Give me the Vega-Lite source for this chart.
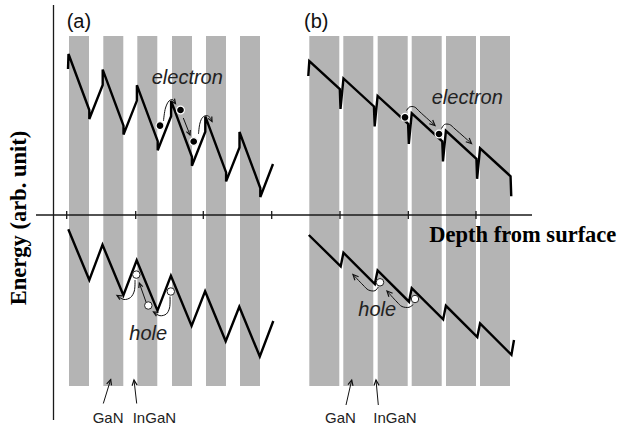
{
  "$schema": "https://vega.github.io/schema/vega-lite/v6.json",
  "width": 624,
  "height": 428,
  "autosize": {"type": "fit", "contains": "padding"},
  "padding": 0,
  "background": "white",
  "config": {"view": {"stroke": null}},
  "encoding": {
    "x": {"field": "depth", "type": "quantitative", "scale": {"domain": [-52, 572], "nice": false, "zero": false}, "axis": null},
    "y": {"field": "energy", "type": "quantitative", "scale": {"domain": [-213, 215], "nice": false, "zero": false}, "axis": null}
  },
  "layer": [
    {
      "description": "GaN barriers (grey) between InGaN wells; panel a thin barriers, panel b wide barriers",
      "data": {"values": [
        {"panel": "a", "depth": 17, "depth_end": 37, "energy": 179, "energy_end": -171},
        {"panel": "a", "depth": 51.3, "depth_end": 71.3, "energy": 179, "energy_end": -171},
        {"panel": "a", "depth": 85.3, "depth_end": 105.3, "energy": 179, "energy_end": -171},
        {"panel": "a", "depth": 120, "depth_end": 140, "energy": 179, "energy_end": -171},
        {"panel": "a", "depth": 154, "depth_end": 174, "energy": 179, "energy_end": -171},
        {"panel": "a", "depth": 188, "depth_end": 208, "energy": 179, "energy_end": -171},
        {"panel": "b", "depth": 257.3, "depth_end": 287.3, "energy": 179, "energy_end": -171},
        {"panel": "b", "depth": 291.3, "depth_end": 321.3, "energy": 179, "energy_end": -171},
        {"panel": "b", "depth": 325.7, "depth_end": 355.7, "energy": 179, "energy_end": -171},
        {"panel": "b", "depth": 359.7, "depth_end": 389.7, "energy": 179, "energy_end": -171},
        {"panel": "b", "depth": 394, "depth_end": 424, "energy": 179, "energy_end": -171},
        {"panel": "b", "depth": 428, "depth_end": 458, "energy": 179, "energy_end": -171}
      ]},
      "mark": {"type": "rect", "color": "#b4b4b4"},
      "encoding": {
        "x2": {"field": "depth_end"},
        "y2": {"field": "energy_end"}
      }
    },
    {
      "description": "energy and depth axis lines, with tick marks on the depth axis",
      "data": {"values": [
        {"depth": 1.5, "depth_end": 1.5, "energy": 210, "energy_end": -205},
        {"depth": -16, "depth_end": 480, "energy": 0, "energy_end": 0},
        {"depth": 14.7, "depth_end": 14.7, "energy": 4, "energy_end": -4},
        {"depth": 83.7, "depth_end": 83.7, "energy": 4, "energy_end": -4},
        {"depth": 151.3, "depth_end": 151.3, "energy": 4, "energy_end": -4},
        {"depth": 219.7, "depth_end": 219.7, "energy": 4, "energy_end": -4},
        {"depth": 288, "depth_end": 288, "energy": 4, "energy_end": -4},
        {"depth": 356.3, "depth_end": 356.3, "energy": 4, "energy_end": -4},
        {"depth": 424, "depth_end": 424, "energy": 4, "energy_end": -4}
      ]},
      "mark": {"type": "rule", "color": "#1a1a1a", "strokeWidth": 1.3},
      "encoding": {
        "x2": {"field": "depth_end"},
        "y2": {"field": "energy_end"}
      }
    },
    {
      "description": "conduction and valence band profiles",
      "data": {"values": [
        {"band": "a-conduction", "i": 0, "depth": 16, "energy": 146},
        {"band": "a-conduction", "i": 1, "depth": 16.5, "energy": 161},
        {"band": "a-conduction", "i": 2, "depth": 37.3, "energy": 105},
        {"band": "a-conduction", "i": 3, "depth": 37.3, "energy": 96},
        {"band": "a-conduction", "i": 4, "depth": 50.7, "energy": 130},
        {"band": "a-conduction", "i": 5, "depth": 50.7, "energy": 145.4},
        {"band": "a-conduction", "i": 6, "depth": 71.5, "energy": 89.4},
        {"band": "a-conduction", "i": 7, "depth": 71.5, "energy": 80.4},
        {"band": "a-conduction", "i": 8, "depth": 84.9, "energy": 114.4},
        {"band": "a-conduction", "i": 9, "depth": 84.9, "energy": 129.8},
        {"band": "a-conduction", "i": 10, "depth": 105.7, "energy": 73.8},
        {"band": "a-conduction", "i": 11, "depth": 105.7, "energy": 64.8},
        {"band": "a-conduction", "i": 12, "depth": 119.1, "energy": 98.8},
        {"band": "a-conduction", "i": 13, "depth": 119.1, "energy": 114.2},
        {"band": "a-conduction", "i": 14, "depth": 139.9, "energy": 58.2},
        {"band": "a-conduction", "i": 15, "depth": 139.9, "energy": 49.2},
        {"band": "a-conduction", "i": 16, "depth": 153.3, "energy": 83.2},
        {"band": "a-conduction", "i": 17, "depth": 153.3, "energy": 98.6},
        {"band": "a-conduction", "i": 18, "depth": 174.1, "energy": 42.6},
        {"band": "a-conduction", "i": 19, "depth": 174.1, "energy": 33.6},
        {"band": "a-conduction", "i": 20, "depth": 187.5, "energy": 67.6},
        {"band": "a-conduction", "i": 21, "depth": 187.5, "energy": 83},
        {"band": "a-conduction", "i": 22, "depth": 208.3, "energy": 27},
        {"band": "a-conduction", "i": 23, "depth": 208.3, "energy": 18},
        {"band": "a-conduction", "i": 24, "depth": 221, "energy": 51},

        {"band": "a-valence", "i": 0, "depth": 16.3, "energy": -14.3},
        {"band": "a-valence", "i": 1, "depth": 37.3, "energy": -65},
        {"band": "a-valence", "i": 2, "depth": 50.5, "energy": -29.8},
        {"band": "a-valence", "i": 3, "depth": 71.4, "energy": -80.3},
        {"band": "a-valence", "i": 4, "depth": 84.7, "energy": -45.3},
        {"band": "a-valence", "i": 5, "depth": 105.5, "energy": -95.6},
        {"band": "a-valence", "i": 6, "depth": 118.9, "energy": -60.8},
        {"band": "a-valence", "i": 7, "depth": 139.6, "energy": -110.9},
        {"band": "a-valence", "i": 8, "depth": 153.1, "energy": -76.3},
        {"band": "a-valence", "i": 9, "depth": 173.7, "energy": -126.2},
        {"band": "a-valence", "i": 10, "depth": 187.3, "energy": -91.8},
        {"band": "a-valence", "i": 11, "depth": 207.8, "energy": -141.5},
        {"band": "a-valence", "i": 12, "depth": 221.3, "energy": -106},

        {"band": "b-conduction", "i": 0, "depth": 256.3, "energy": 139},
        {"band": "b-conduction", "i": 1, "depth": 257.3, "energy": 154},
        {"band": "b-conduction", "i": 2, "depth": 287.8, "energy": 126},
        {"band": "b-conduction", "i": 3, "depth": 288.5, "energy": 106},
        {"band": "b-conduction", "i": 4, "depth": 291.45, "energy": 136.55},
        {"band": "b-conduction", "i": 5, "depth": 321.95, "energy": 108.55},
        {"band": "b-conduction", "i": 6, "depth": 322.65, "energy": 88.55},
        {"band": "b-conduction", "i": 7, "depth": 325.6, "energy": 119.1},
        {"band": "b-conduction", "i": 8, "depth": 356.1, "energy": 91.1},
        {"band": "b-conduction", "i": 9, "depth": 356.8, "energy": 71.1},
        {"band": "b-conduction", "i": 10, "depth": 359.75, "energy": 101.65},
        {"band": "b-conduction", "i": 11, "depth": 390.25, "energy": 73.65},
        {"band": "b-conduction", "i": 12, "depth": 390.95, "energy": 53.65},
        {"band": "b-conduction", "i": 13, "depth": 393.9, "energy": 84.2},
        {"band": "b-conduction", "i": 14, "depth": 424.4, "energy": 56.2},
        {"band": "b-conduction", "i": 15, "depth": 425.1, "energy": 36.2},
        {"band": "b-conduction", "i": 16, "depth": 428.05, "energy": 66.75},
        {"band": "b-conduction", "i": 17, "depth": 458.55, "energy": 38.75},
        {"band": "b-conduction", "i": 18, "depth": 459.25, "energy": 18.75},

        {"band": "b-valence", "i": 0, "depth": 256.8, "energy": -20},
        {"band": "b-valence", "i": 1, "depth": 288.7, "energy": -51.3},
        {"band": "b-valence", "i": 2, "depth": 291.45, "energy": -37.7},
        {"band": "b-valence", "i": 3, "depth": 322.85, "energy": -69},
        {"band": "b-valence", "i": 4, "depth": 325.6, "energy": -55.4},
        {"band": "b-valence", "i": 5, "depth": 357, "energy": -86.7},
        {"band": "b-valence", "i": 6, "depth": 359.75, "energy": -73.1},
        {"band": "b-valence", "i": 7, "depth": 391.15, "energy": -104.4},
        {"band": "b-valence", "i": 8, "depth": 393.9, "energy": -90.8},
        {"band": "b-valence", "i": 9, "depth": 425.3, "energy": -122.1},
        {"band": "b-valence", "i": 10, "depth": 428.05, "energy": -108.5},
        {"band": "b-valence", "i": 11, "depth": 459.45, "energy": -139.8},
        {"band": "b-valence", "i": 12, "depth": 462, "energy": -125}
      ]},
      "mark": {"type": "line", "color": "black", "strokeWidth": 2.4, "strokeJoin": "miter", "strokeCap": "butt"},
      "encoding": {
        "detail": {"field": "band"},
        "order": {"field": "i", "type": "quantitative"}
      }
    },
    {
      "description": "carrier transfer paths and layer pointers (shafts)",
      "data": {"values": [
        {"arrow": "a-e1", "i": 0, "depth": 111.5, "energy": 94},
        {"arrow": "a-e1", "i": 1, "depth": 113.5, "energy": 107},
        {"arrow": "a-e1", "i": 2, "depth": 117, "energy": 114},
        {"arrow": "a-e1", "i": 3, "depth": 120.5, "energy": 115.5},
        {"arrow": "a-e1", "i": 4, "depth": 123.5, "energy": 111.5},
        {"arrow": "a-e2", "i": 0, "depth": 131.3, "energy": 97},
        {"arrow": "a-e2", "i": 1, "depth": 138, "energy": 80},
        {"arrow": "a-e3", "i": 0, "depth": 146.5, "energy": 81},
        {"arrow": "a-e3", "i": 1, "depth": 148, "energy": 92},
        {"arrow": "a-e3", "i": 2, "depth": 150.7, "energy": 97.7},
        {"arrow": "a-e3", "i": 3, "depth": 154.7, "energy": 99.5},
        {"arrow": "a-e3", "i": 4, "depth": 158, "energy": 97.5},
        {"arrow": "a-e3", "i": 5, "depth": 160, "energy": 93.5},
        {"arrow": "a-h1", "i": 0, "depth": 83, "energy": -65},
        {"arrow": "a-h1", "i": 1, "depth": 82.3, "energy": -76},
        {"arrow": "a-h1", "i": 2, "depth": 78.5, "energy": -82.5},
        {"arrow": "a-h1", "i": 3, "depth": 72, "energy": -84.5},
        {"arrow": "a-h1", "i": 4, "depth": 65, "energy": -80.5},
        {"arrow": "a-h2", "i": 0, "depth": 94, "energy": -87},
        {"arrow": "a-h2", "i": 1, "depth": 87.3, "energy": -68},
        {"arrow": "a-h3", "i": 0, "depth": 118, "energy": -81.5},
        {"arrow": "a-h3", "i": 1, "depth": 117.5, "energy": -93},
        {"arrow": "a-h3", "i": 2, "depth": 114.3, "energy": -99},
        {"arrow": "a-h3", "i": 3, "depth": 108, "energy": -100.7},
        {"arrow": "a-h3", "i": 4, "depth": 101.5, "energy": -97},
        {"arrow": "b-e1", "i": 0, "depth": 354.5, "energy": 104.5},
        {"arrow": "b-e1", "i": 1, "depth": 357.5, "energy": 108},
        {"arrow": "b-e1", "i": 2, "depth": 362.5, "energy": 108},
        {"arrow": "b-e1", "i": 3, "depth": 368, "energy": 103},
        {"arrow": "b-e1", "i": 4, "depth": 383, "energy": 89.5},
        {"arrow": "b-e2", "i": 0, "depth": 389.5, "energy": 86.5},
        {"arrow": "b-e2", "i": 1, "depth": 392.5, "energy": 90.5},
        {"arrow": "b-e2", "i": 2, "depth": 397.5, "energy": 90.5},
        {"arrow": "b-e2", "i": 3, "depth": 403, "energy": 86},
        {"arrow": "b-e2", "i": 4, "depth": 419.5, "energy": 71.5},
        {"arrow": "b-h1", "i": 0, "depth": 326.3, "energy": -72},
        {"arrow": "b-h1", "i": 1, "depth": 323, "energy": -75.7},
        {"arrow": "b-h1", "i": 2, "depth": 316.5, "energy": -75},
        {"arrow": "b-h1", "i": 3, "depth": 311, "energy": -70},
        {"arrow": "b-h1", "i": 4, "depth": 301, "energy": -59.5},
        {"arrow": "b-h2", "i": 0, "depth": 361.3, "energy": -89.5},
        {"arrow": "b-h2", "i": 1, "depth": 357, "energy": -92.3},
        {"arrow": "b-h2", "i": 2, "depth": 350, "energy": -91.5},
        {"arrow": "b-h2", "i": 3, "depth": 345, "energy": -87},
        {"arrow": "b-h2", "i": 4, "depth": 335, "energy": -76},
        {"arrow": "a-gan", "i": 0, "depth": 51.3, "energy": -188.5},
        {"arrow": "a-gan", "i": 1, "depth": 58.7, "energy": -164.5},
        {"arrow": "a-ingan", "i": 0, "depth": 84.7, "energy": -188.5},
        {"arrow": "a-ingan", "i": 1, "depth": 82, "energy": -165},
        {"arrow": "b-gan", "i": 0, "depth": 294, "energy": -190},
        {"arrow": "b-gan", "i": 1, "depth": 299.7, "energy": -165},
        {"arrow": "b-ingan", "i": 0, "depth": 326.3, "energy": -190},
        {"arrow": "b-ingan", "i": 1, "depth": 324, "energy": -165}
      ]},
      "mark": {"type": "line", "color": "#111111", "strokeWidth": 1, "interpolate": "catmull-rom"},
      "encoding": {
        "detail": {"field": "arrow"},
        "order": {"field": "i", "type": "quantitative"}
      }
    },
    {
      "description": "arrow heads: barb, tip, barb",
      "data": {"values": [
        {"arrow": "a-e1", "i": 0, "depth": 122.5, "energy": 116.4},
        {"arrow": "a-e1", "i": 1, "depth": 123.5, "energy": 111.5},
        {"arrow": "a-e1", "i": 2, "depth": 119.1, "energy": 113.9},
        {"arrow": "a-e2", "i": 0, "depth": 138.3, "energy": 85},
        {"arrow": "a-e2", "i": 1, "depth": 138, "energy": 80},
        {"arrow": "a-e2", "i": 2, "depth": 134.4, "energy": 83.4},
        {"arrow": "a-e3", "i": 0, "depth": 159.8, "energy": 98.5},
        {"arrow": "a-e3", "i": 1, "depth": 160, "energy": 93.5},
        {"arrow": "a-e3", "i": 2, "depth": 156.1, "energy": 96.6},
        {"arrow": "a-h1", "i": 0, "depth": 67.9, "energy": -84.6},
        {"arrow": "a-h1", "i": 1, "depth": 65, "energy": -80.5},
        {"arrow": "a-h1", "i": 2, "depth": 70, "energy": -80.9},
        {"arrow": "a-h2", "i": 0, "depth": 86.8, "energy": -73},
        {"arrow": "a-h2", "i": 1, "depth": 87.3, "energy": -68},
        {"arrow": "a-h2", "i": 2, "depth": 90.8, "energy": -71.6},
        {"arrow": "a-h3", "i": 0, "depth": 104.4, "energy": -101.1},
        {"arrow": "a-h3", "i": 1, "depth": 101.5, "energy": -97},
        {"arrow": "a-h3", "i": 2, "depth": 106.5, "energy": -97.4},
        {"arrow": "b-e1", "i": 0, "depth": 380.7, "energy": 95},
        {"arrow": "b-e1", "i": 1, "depth": 383, "energy": 89.5},
        {"arrow": "b-e1", "i": 2, "depth": 377.3, "energy": 91.2},
        {"arrow": "b-e2", "i": 0, "depth": 417.2, "energy": 77},
        {"arrow": "b-e2", "i": 1, "depth": 419.5, "energy": 71.5},
        {"arrow": "b-e2", "i": 2, "depth": 413.8, "energy": 73.2},
        {"arrow": "b-h1", "i": 0, "depth": 302.9, "energy": -65.2},
        {"arrow": "b-h1", "i": 1, "depth": 301, "energy": -59.5},
        {"arrow": "b-h1", "i": 2, "depth": 306.6, "energy": -61.7},
        {"arrow": "b-h2", "i": 0, "depth": 336.9, "energy": -81.7},
        {"arrow": "b-h2", "i": 1, "depth": 335, "energy": -76},
        {"arrow": "b-h2", "i": 2, "depth": 340.6, "energy": -78.2},
        {"arrow": "a-gan", "i": 0, "depth": 54.7, "energy": -168.9},
        {"arrow": "a-gan", "i": 1, "depth": 58.7, "energy": -164.5},
        {"arrow": "a-gan", "i": 2, "depth": 59.5, "energy": -170.4},
        {"arrow": "a-ingan", "i": 0, "depth": 80.1, "energy": -170.7},
        {"arrow": "a-ingan", "i": 1, "depth": 82, "energy": -165},
        {"arrow": "a-ingan", "i": 2, "depth": 85.1, "energy": -170.1},
        {"arrow": "b-gan", "i": 0, "depth": 296, "energy": -169.7},
        {"arrow": "b-gan", "i": 1, "depth": 299.7, "energy": -165},
        {"arrow": "b-gan", "i": 2, "depth": 301, "energy": -170.9},
        {"arrow": "b-ingan", "i": 0, "depth": 322, "energy": -170.6},
        {"arrow": "b-ingan", "i": 1, "depth": 324, "energy": -165},
        {"arrow": "b-ingan", "i": 2, "depth": 327, "energy": -170.2}
      ]},
      "mark": {"type": "line", "color": "#111111", "strokeWidth": 1.2, "strokeJoin": "miter"},
      "encoding": {
        "detail": {"field": "arrow"},
        "order": {"field": "i", "type": "quantitative"}
      }
    },
    {
      "description": "electrons",
      "data": {"values": [
        {"panel": "a", "depth": 108, "energy": 89.3},
        {"panel": "a", "depth": 128.5, "energy": 105},
        {"panel": "a", "depth": 141.7, "energy": 73.5},
        {"panel": "b", "depth": 353, "energy": 97.7},
        {"panel": "b", "depth": 387, "energy": 81}
      ]},
      "mark": {"type": "point", "shape": "circle", "filled": true, "fill": "black", "fillOpacity": 1, "stroke": "white", "strokeWidth": 1.2, "size": 62}
    },
    {
      "description": "holes",
      "data": {"values": [
        {"panel": "a", "depth": 84.3, "energy": -59.6},
        {"panel": "a", "depth": 96.3, "energy": -90.5},
        {"panel": "a", "depth": 118.8, "energy": -76.5},
        {"panel": "b", "depth": 328, "energy": -67.3},
        {"panel": "b", "depth": 363, "energy": -84}
      ]},
      "mark": {"type": "point", "shape": "circle", "filled": true, "fill": "white", "fillOpacity": 1, "stroke": "#222222", "strokeWidth": 1, "size": 56}
    },
    {
      "description": "panel tags",
      "data": {"values": [
        {"label": "(a)", "depth": 14.7, "energy": 187.5},
        {"label": "(b)", "depth": 252, "energy": 187.5}
      ]},
      "mark": {"type": "text", "font": "Liberation Sans", "fontSize": 20, "align": "left", "baseline": "alphabetic", "color": "#111111"},
      "encoding": {"text": {"field": "label"}}
    },
    {
      "description": "carrier labels",
      "data": {"values": [
        {"label": "electron", "depth": 99.7, "energy": 131.5},
        {"label": "electron", "depth": 379.7, "energy": 111.5},
        {"label": "hole", "depth": 77.3, "energy": -124.5},
        {"label": "hole", "depth": 306.3, "energy": -101}
      ]},
      "mark": {"type": "text", "font": "Liberation Sans", "fontSize": 20, "fontStyle": "italic", "align": "left", "baseline": "alphabetic", "color": "#222222"},
      "encoding": {"text": {"field": "label"}}
    },
    {
      "description": "layer names",
      "data": {"values": [
        {"label": "GaN", "depth": 40.7, "energy": -208},
        {"label": "InGaN", "depth": 80.7, "energy": -208},
        {"label": "GaN", "depth": 273, "energy": -208},
        {"label": "InGaN", "depth": 321.3, "energy": -208}
      ]},
      "mark": {"type": "text", "font": "Liberation Sans", "fontSize": 15, "align": "left", "baseline": "alphabetic", "color": "#222222"},
      "encoding": {"text": {"field": "label"}}
    },
    {
      "description": "depth axis title",
      "data": {"values": [{"label": "Depth from surface", "depth": 377.3, "energy": -27}]},
      "mark": {"type": "text", "font": "Liberation Serif", "fontWeight": "bold", "fontSize": 22.5, "align": "left", "baseline": "alphabetic", "color": "black"},
      "encoding": {"text": {"field": "label"}}
    },
    {
      "description": "energy axis title",
      "data": {"values": [{"label": "Energy (arb. unit)", "depth": -33, "energy": -3}]},
      "mark": {"type": "text", "font": "Liberation Serif", "fontWeight": "bold", "fontSize": 22.5, "angle": 270, "align": "center", "baseline": "middle", "color": "black"},
      "encoding": {"text": {"field": "label"}}
    }
  ]
}
